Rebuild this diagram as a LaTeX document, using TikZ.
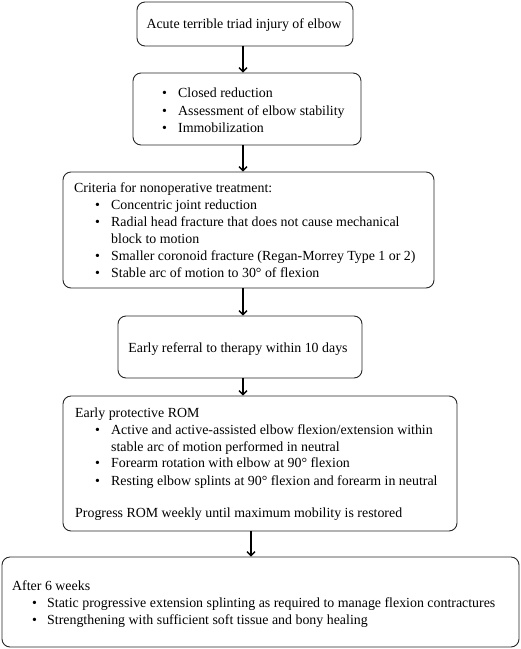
\documentclass[tikz,border=0pt]{standalone}
\usepackage{fontspec}
\setmainfont{Liberation Serif}
\usetikzlibrary{arrows.meta}
\begin{document}
\begin{tikzpicture}[x=1pt,y=1pt,
  box/.style={draw=black!85,line width=0.9pt,rounded corners=8pt,inner sep=0pt},
  txt/.style={anchor=base west,inner sep=0pt,font=\fontsize{13.9}{16}\selectfont},
  ctxt/.style={anchor=base,inner sep=0pt,font=\fontsize{13.9}{16}\selectfont},
  arr/.style={line width=1.3pt,-{Straight Barb[length=4pt,width=8pt,line width=1.3pt]}}]
\useasboundingbox (0,0) rectangle (521,-649);
% boxes
\node[box,minimum width=216,minimum height=44] (b1) at (245,-24) {};
\node[box,minimum width=228,minimum height=72] (b2) at (247,-109) {};
\node[box,minimum width=371,minimum height=116] (b3) at (248.5,-230) {};
\node[box,minimum width=244,minimum height=62] (b4) at (240,-347) {};
\node[box,minimum width=394,minimum height=135] (b5) at (260,-463.5) {};
\node[box,minimum width=517,minimum height=90] (b6) at (260.5,-602) {};
% arrow columns
\coordinate (ca) at (243,0);
\coordinate (cb) at (251,0);
\draw[arr] (b1.south -| ca) -- (b2.north -| ca);
\draw[arr] (b2.south -| ca) -- (b3.north -| ca);
\draw[arr] (b3.south -| ca) -- (b4.north -| ca);
\draw[arr] (b4.south -| ca) -- (b5.north -| ca);
\draw[arr] (b5.south -| cb) -- (b6.north -| cb);
% box 1
\node[ctxt] (t1) at (244,-28) {Acute terrible triad injury of elbow};
% box 2
\node[txt] (t2a) at (162,-97) {\textbullet};
\node[txt] (t2b) at (162,-115) {\textbullet};
\node[txt] (t2c) at (162,-132) {\textbullet};
\node[txt] (t2d) at (178,-97) {Closed reduction};
\node[txt] (t2e) at (178,-115) {Assessment of elbow stability};
\node[txt] (t2f) at (178,-132) {Immobilization};
% box 3
\node[txt] (t3h) at (74,-192) {Criteria for nonoperative treatment:};
\node[txt] (t3a) at (95,-209) {\textbullet};
\node[txt] (t3b) at (95,-226) {\textbullet};
\node[txt] (t3c) at (95,-260) {\textbullet};
\node[txt] (t3d) at (95,-277) {\textbullet};
\node[txt] (t3e) at (111,-209) {Concentric joint reduction};
\node[txt] (t3f) at (111,-226) {Radial head fracture that does not cause mechanical};
\node[txt] (t3g) at (111,-243) {block to motion};
\node[txt] (t3i) at (111,-260) {Smaller coronoid fracture (Regan-Morrey Type 1 or 2)};
\node[txt] (t3j) at (111,-277) {Stable arc of motion to 30° of flexion};
% box 4
\node[ctxt] (t4) at (238,-352) {Early referral to therapy within 10 days};
% box 5
\node[txt] (t5h) at (75,-417) {Early protective ROM};
\node[txt] (t5a) at (95,-434) {\textbullet};
\node[txt] (t5b) at (95,-467) {\textbullet};
\node[txt] (t5c) at (95,-485) {\textbullet};
\node[txt] (t5d) at (111,-434) {Active and active-assisted elbow flexion/extension within};
\node[txt] (t5e) at (111,-451) {stable arc of motion performed in neutral};
\node[txt] (t5f) at (111,-467) {Forearm rotation with elbow at 90° flexion};
\node[txt] (t5g) at (111,-485) {Resting elbow splints at 90° flexion and forearm in neutral};
\node[txt] (t5i) at (75,-517) {Progress ROM weekly until maximum mobility is restored};
% box 6
\node[txt] (t6h) at (12,-590) {After 6 weeks};
\node[txt] (t6a) at (32,-607) {\textbullet};
\node[txt] (t6b) at (32,-624) {\textbullet};
\node[txt] (t6c) at (47,-607) {Static progressive extension splinting as required to manage flexion contractures};
\node[txt] (t6d) at (47,-624) {Strengthening with sufficient soft tissue and bony healing};
\end{tikzpicture}
\end{document}
